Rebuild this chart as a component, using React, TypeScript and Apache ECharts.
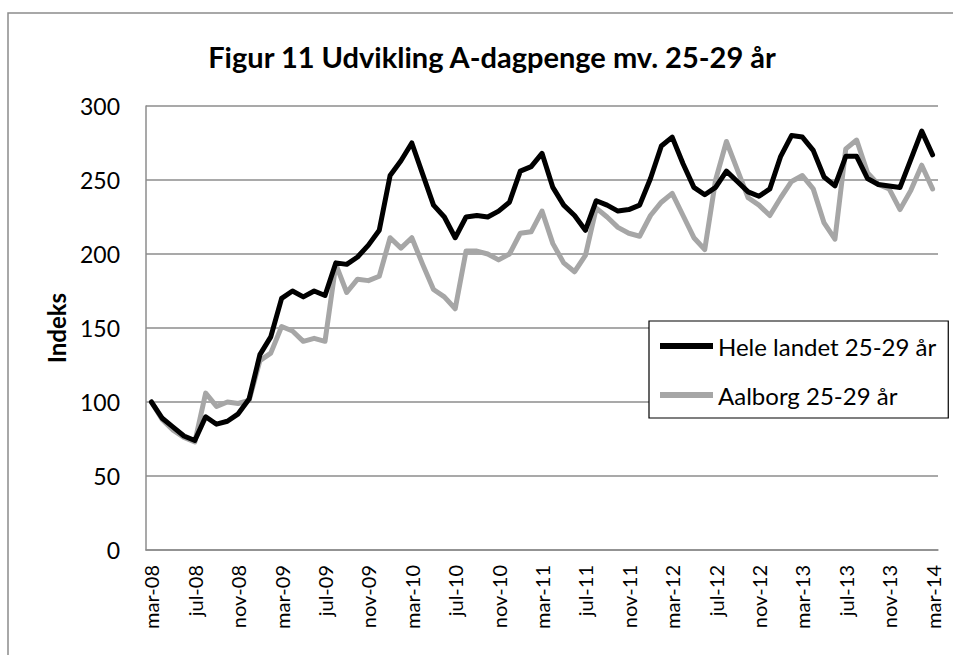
import React, { useEffect, useRef } from "react";
import * as echarts from "echarts";

const categories: string[] = [
  "mar-08","apr-08","maj-08","jun-08","jul-08","aug-08","sep-08","okt-08","nov-08","dec-08",
  "jan-09","feb-09","mar-09","apr-09","maj-09","jun-09","jul-09","aug-09","sep-09","okt-09","nov-09","dec-09",
  "jan-10","feb-10","mar-10","apr-10","maj-10","jun-10","jul-10","aug-10","sep-10","okt-10","nov-10","dec-10",
  "jan-11","feb-11","mar-11","apr-11","maj-11","jun-11","jul-11","aug-11","sep-11","okt-11","nov-11","dec-11",
  "jan-12","feb-12","mar-12","apr-12","maj-12","jun-12","jul-12","aug-12","sep-12","okt-12","nov-12","dec-12",
  "jan-13","feb-13","mar-13","apr-13","maj-13","jun-13","jul-13","aug-13","sep-13","okt-13","nov-13","dec-13",
  "jan-14","feb-14","mar-14",
];

const heleLandet: number[] = [
  100, 89, 83, 77, 74, 90, 85, 87, 92, 102,
  132, 144, 170, 175, 171, 175, 172, 194, 193, 198, 206, 216,
  253, 263, 275, 254, 233, 225, 211, 225, 226, 225, 229, 235,
  256, 259, 268, 245, 233, 226, 216, 236, 233, 229, 230, 233,
  251, 273, 279, 261, 245, 240, 245, 256, 249, 242, 239, 244,
  266, 280, 279, 270, 252, 246, 266, 266, 251, 247, 246, 245,
  264, 283, 267,
];

const aalborg: number[] = [
  100, 88, 81, 76, 73, 106, 97, 100, 99, 101,
  128, 133, 151, 148, 141, 143, 141, 193, 174, 183, 182, 185,
  211, 204, 211, 193, 176, 171, 163, 202, 202, 200, 196, 200,
  214, 215, 229, 207, 194, 188, 199, 231, 225, 218, 214, 212,
  226, 235, 241, 226, 211, 203, 250, 276, 257, 238, 233, 226,
  238, 249, 253, 244, 221, 210, 271, 277, 255, 247, 244, 230,
  243, 260, 244,
];

const yTicks = { min: 0, max: 300, interval: 50 };
const seriesNames = ["Hele landet 25-29 år", "Aalborg 25-29 år"];
const titleText = "Figur 11 Udvikling A-dagpenge mv. 25-29 år";
const FONT = "Lato, 'Open Sans', sans-serif";

export default function App() {
  const ref = useRef<HTMLDivElement>(null);

  useEffect(() => {
    if (!ref.current) return;
    const chart = echarts.init(ref.current, undefined, { renderer: "svg" });
    chart.setOption({
      animation: false,
      backgroundColor: "#ffffff",
      textStyle: { fontFamily: FONT },
      title: {
        text: titleText,
        left: 487,
        textAlign: "center",
        top: 37,
        textStyle: { fontFamily: FONT, fontWeight: "bold", fontSize: 29, color: "#000" },
      },
      graphic: [
        {
          type: "rect",
          shape: { x: 8, y: 13, width: 980, height: 700 },
          style: { fill: "none", stroke: "#8c8c8c", lineWidth: 1.5 },
          silent: true,
        },
      ],
      grid: { left: 146, right: 15, top: 106, bottom: 105, containLabel: false },
      legend: {
        orient: "vertical",
        left: 649,
        top: 321,
        itemWidth: 53,
        itemHeight: 6,
        itemGap: 25,
        icon: "rect",
        padding: [13, 12, 11, 11],
        borderColor: "#000",
        borderWidth: 1.2,
        backgroundColor: "#fff",
        textStyle: { fontFamily: FONT, fontSize: 24, color: "#000", width: 218 },
        data: seriesNames,
      },
      xAxis: {
        type: "category",
        data: categories,
        boundaryGap: true,
        axisLine: { lineStyle: { color: "#8c8c8c", width: 1.5 } },
        axisTick: { show: false },
        axisLabel: {
          interval: 3,
          rotate: 90,
          margin: 15,
          fontFamily: FONT,
          fontSize: 20,
          color: "#000",
        },
        splitLine: { show: false },
      },
      yAxis: {
        type: "value",
        min: yTicks.min,
        max: yTicks.max,
        interval: yTicks.interval,
        name: "Indeks",
        nameLocation: "middle",
        nameRotate: 90,
        nameGap: 78,
        nameTextStyle: { fontFamily: FONT, fontWeight: "bold", fontSize: 24, color: "#000" },
        axisLine: { show: true, lineStyle: { color: "#8c8c8c", width: 1.5 } },
        axisTick: { show: false },
        axisLabel: { margin: 26, fontFamily: FONT, fontSize: 23, color: "#000" },
        splitLine: { lineStyle: { color: "#8c8c8c", width: 1.5 } },
      },
      series: [
        {
          name: seriesNames[0],
          type: "line",
          data: heleLandet,
          showSymbol: false,
          symbol: "none",
          color: "#000000",
          lineStyle: { color: "#000000", width: 5, join: "round", cap: "round" },
          z: 3,
        },
        {
          name: seriesNames[1],
          type: "line",
          data: aalborg,
          showSymbol: false,
          symbol: "none",
          color: "#a6a6a6",
          lineStyle: { color: "#a6a6a6", width: 5, join: "round", cap: "round" },
          z: 2,
        },
      ],
    });
    return () => chart.dispose();
  }, []);

  return (
    <div
      ref={ref}
      style={{ position: "fixed", left: 0, top: 0, width: 953, height: 655 }}
    />
  );
}
